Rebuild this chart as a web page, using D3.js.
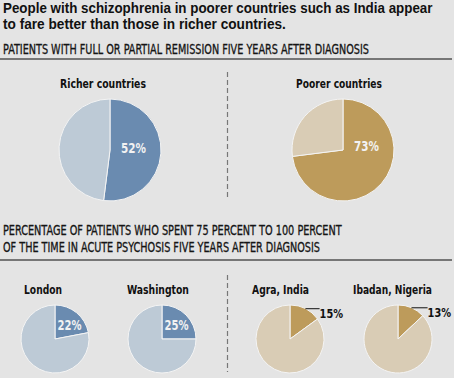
<!DOCTYPE html>
<html>
<head>
<meta charset="utf-8">
<script src="https://cdn.jsdelivr.net/npm/d3@7"></script>
<style>
  body { margin: 0; background: #e4e4e4; }
  .title { font-family: "Liberation Sans", Arial, sans-serif; font-weight: bold; font-size: 13.8px; fill: #111; }
  .cond { font-family: "DejaVu Sans Condensed", "DejaVu Sans", sans-serif; font-stretch: condensed; }
  .subhead { font-size: 13.6px; fill: #151515; stroke: #151515; stroke-width: 0.3px; }
  .pie-label { font-weight: bold; font-size: 12.5px; fill: #111; text-anchor: middle; }
  .pct-in { font-weight: bold; font-size: 14px; fill: #f2f2f2; text-anchor: middle; }
  .pct-out { font-weight: bold; font-size: 12.5px; fill: #111; }
</style>
</head>
<body>
<svg id="chart"></svg>
<script>
// remission five years after diagnosis
const remissionGroups = ["Richer countries", "Poorer countries"];
const remissionValues = [52, 73];

// share of patients spending 75-100% of the time in acute psychosis
const psychosisCities = ["London", "Washington", "Agra, India", "Ibadan, Nigeria"];
const psychosisValues = [22, 25, 15, 13];
const psychosisGroup = ["richer", "richer", "poorer", "poorer"];

const titleLines = [
    "People with schizophrenia in poorer countries such as India appear",
    "to fare better than those in richer countries."
];
const subhead1 = ["PATIENTS WITH FULL OR PARTIAL REMISSION FIVE YEARS AFTER DIAGNOSIS"];
const subhead2 = [
    "PERCENTAGE OF PATIENTS WHO SPENT 75 PERCENT TO 100 PERCENT",
    "OF THE TIME IN ACUTE PSYCHOSIS FIVE YEARS AFTER DIAGNOSIS"
];

const W = 454, H = 378;
const colors = {
    richer: { main: "#6a8bb0", rest: "#bdcad6" },
    poorer: { main: "#bd9b5b", rest: "#d9ccb5" }
};

// squeeze a text horizontally to the width it has in the print layout
function fit(sel, w) {
    const node = sel.node();
    const len = node.getComputedTextLength();
    const x = +sel.attr("x");
    const k = w / len;
    sel.attr("transform", `translate(${x},0) scale(${k},1) translate(${-x},0)`);
}

const svg = d3.select("#chart").attr("width", W).attr("height", H);
svg.append("rect").attr("width", W).attr("height", H).attr("fill", "#e4e4e4");

// headings
const titleW = [430, 283];
svg.selectAll("text.title").data(titleLines).join("text")
    .attr("class", "title")
    .attr("x", 3).attr("y", (d, i) => 13.5 + i * 15.5)
    .text(d => d)
    .each(function(d, i) { fit(d3.select(this), titleW[i]); });

svg.selectAll("text.sub1").data(subhead1).join("text")
    .attr("class", "cond subhead sub1")
    .attr("x", 3).attr("y", 54.5)
    .text(d => d)
    .call(fit, 366);

const sub2W = [339, 317];
svg.selectAll("text.sub2").data(subhead2).join("text")
    .attr("class", "cond subhead sub2")
    .attr("x", 3).attr("y", (d, i) => 235 + i * 17)
    .text(d => d)
    .each(function(d, i) { fit(d3.select(this), sub2W[i]); });

// rules
[59, 260].forEach(y => {
    svg.append("line")
        .attr("x1", 0).attr("x2", 452)
        .attr("y1", y).attr("y2", y)
        .attr("stroke", "#767676").attr("stroke-width", 2.2);
});

// dashed dividers
[[72, 198], [275, 372]].forEach(([y1, y2]) => {
    svg.append("line")
        .attr("x1", 227.5).attr("x2", 227.5)
        .attr("y1", y1).attr("y2", y2)
        .attr("stroke", "#777").attr("stroke-width", 1.2)
        .attr("stroke-dasharray", "5,3");
});

const pie = d3.pie().sort(null).value(d => d.v);

function drawPie(g, value, r, palette) {
    const slices = pie([{ v: value, c: palette.main }, { v: 100 - value, c: palette.rest }]);
    const arc = d3.arc().innerRadius(0).outerRadius(r);
    g.selectAll("path").data(slices).join("path")
        .attr("d", arc)
        .attr("fill", d => d.data.c)
        .attr("stroke", "#f4f4f4")
        .attr("stroke-width", 1);
    return slices;
}

// big pies
const bigX = d3.scalePoint().domain(remissionGroups).range([110, 343]);
const bigR = 51;
const bigLabelDx = [-7, -4], bigLabelW = [86, 86];
const bigPctBase = [2.7, 1];
remissionGroups.forEach((name, i) => {
    const cx = bigX(name), cy = 150;
    const pal = i === 0 ? colors.richer : colors.poorer;
    const g = svg.append("g").attr("transform", `translate(${cx},${cy})`);
    drawPie(g, remissionValues[i], bigR, pal);
    g.append("text").attr("class", "cond pct-in")
        .attr("x", 23.5).attr("y", bigPctBase[i])
        .text(remissionValues[i] + "%")
        .call(fit, 25);
    svg.append("text").attr("class", "cond pie-label")
        .attr("x", cx + bigLabelDx[i]).attr("y", 88)
        .text(name)
        .call(fit, bigLabelW[i]);
});

// small pies
const smallX = d3.scaleOrdinal().domain(psychosisCities).range([55, 162, 290, 398]);
const smallR = 34;
const smallLabelDx = [-12, -4, -9.5, -5.5], smallLabelW = [38, 62, 57, 79];
psychosisCities.forEach((name, i) => {
    const cx = smallX(name), cy = 339;
    const pal = colors[psychosisGroup[i]];
    const g = svg.append("g").attr("transform", `translate(${cx},${cy})`);
    const slices = drawPie(g, psychosisValues[i], smallR, pal);
    const label = psychosisValues[i] + "%";
    if (psychosisValues[i] >= 20) {
        g.append("text").attr("class", "cond pct-in")
            .attr("x", 14.5).attr("y", -9)
            .text(label)
            .call(fit, 24);
    } else {
        const mid = (slices[0].startAngle + slices[0].endAngle) / 2;
        const px = Math.sin(mid) * smallR, py = -Math.cos(mid) * smallR;
        const ex = smallR * 0.87;
        g.append("line")
            .attr("x1", px).attr("y1", py)
            .attr("x2", ex).attr("y2", py)
            .attr("stroke", "#111").attr("stroke-width", 1);
        g.append("text").attr("class", "cond pct-out")
            .attr("x", ex).attr("y", py + 9.5)
            .text(label)
            .call(fit, 23.5);
    }
    svg.append("text").attr("class", "cond pie-label")
        .attr("x", cx + smallLabelDx[i]).attr("y", 294)
        .text(name)
        .call(fit, smallLabelW[i]);
});
</script>
</body>
</html>
